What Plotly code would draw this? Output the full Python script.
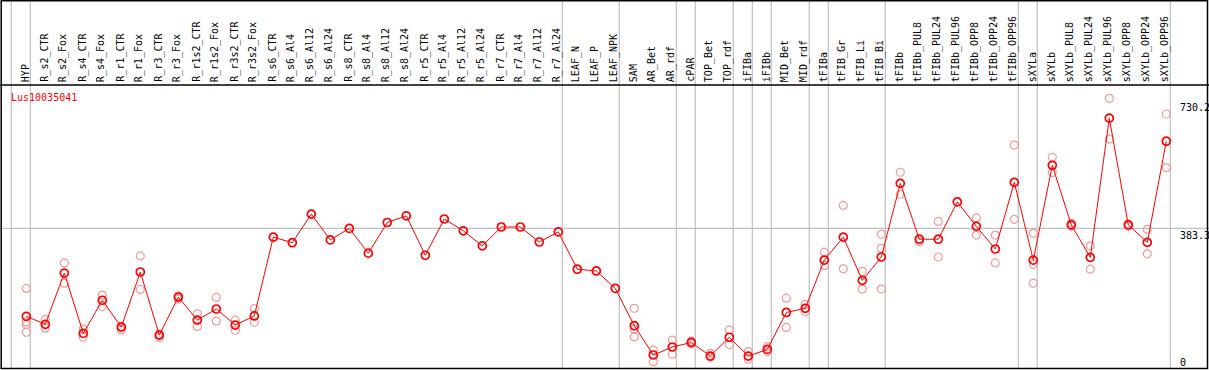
import plotly.graph_objects as go

title = "Lus10035041"
categories = [
    "HYP", "R_s2_CTR", "R_s2_Fox", "R_s4_CTR", "R_s4_Fox", "R_r1_CTR", "R_r1_Fox",
    "R_r3_CTR", "R_r3_Fox", "R_r1s2_CTR", "R_r1s2_Fox", "R_r3s2_CTR", "R_r3s2_Fox",
    "R_s6_CTR", "R_s6_Al4", "R_s6_Al12", "R_s6_Al24", "R_s8_CTR", "R_s8_Al4",
    "R_s8_Al12", "R_s8_Al24", "R_r5_CTR", "R_r5_Al4", "R_r5_Al12", "R_r5_Al24",
    "R_r7_CTR", "R_r7_Al4", "R_r7_Al12", "R_r7_Al24", "LEAF_N", "LEAF_P", "LEAF_NPK",
    "SAM", "AR_Bet", "AR_rdf", "cPAR", "TOP_Bet", "TOP_rdf", "iFIBa", "iFIBb",
    "MID_Bet", "MID_rdf", "tFIBa", "tFIB_Gr", "tFIB_Li", "tFIB_Bi", "tFIBb",
    "tFIBb_PUL8", "tFIBb_PUL24", "tFIBb_PUL96", "tFIBb_OPP8", "tFIBb_OPP24", "tFIBb_OPP96",
    "sXYLa", "sXYLb", "sXYLb_PUL8", "sXYLb_PUL24", "sXYLb_PUL96", "sXYLb_OPP8",
    "sXYLb_OPP24", "sXYLb_OPP96",
]
means = [
    131, 108, 255, 82, 177, 100, 258, 77, 186, 120, 152, 106, 132,
    358, 342, 424, 350, 383, 312, 400, 419, 306, 410, 376, 333,
    387, 387, 344, 373, 266, 261, 211,
    104, 20, 43, 56, 17, 71, 17, 36, 142, 154, 292, 358, 234, 301, 512,
    352, 352, 459, 389, 324, 515,
    292, 564, 393, 300, 699, 393, 343, 633,
]
replicates = [
    [211, 115, 108, 85], [122, 97], [284, 226], [94, 71], [192, 159], [103, 92],
    [304, 208], [70, 80], [180, 190], [138, 102], [185, 117], [120, 91], [153, 114],
    [], [], [], [], [], [], [], [], [], [], [], [],
    [], [], [], [], [], [], [],
    [154, 94, 72], [34, 1], [63, 22], [52, 60], [25, 14], [92, 50], [30, 8], [44, 30],
    [183, 99], [165, 144], [315, 277], [449, 267], [260, 209], [366, 326, 209], [544, 481],
    [345], [403, 301], [], [413, 364], [364, 284], [622, 409],
    [369, 280, 226], [587, 543], [398, 390], [333, 266], [756, 639], [396, 389],
    [380, 310], [711, 557],
]
# group separators (after these category indexes)
separators_after = [-1, 0, 28, 31, 34, 35, 37, 38, 39, 41, 42, 45, 52, 53, 60]
ytick_vals = [730.2, 383.3, 0]
ytick_text = ["730.2", "383.3", "0"]
ref_line = 383.3

W, H = 1209, 370
FONT = "DejaVu Sans Mono"

# pixel <-> data helpers for layout (axis ranges only)
x0_px, dx_px = 26.3, 19.0
y0_px, dy_px = 362.0, 0.3488
xr = [(0 - x0_px) / dx_px, (W - x0_px) / dx_px]
yr = [(y0_px - H) / dy_px, y0_px / dy_px]


def py(p):
    return 1 - p / H


rx, ry = [], []
for i, reps in enumerate(replicates):
    for v in reps:
        rx.append(i)
        ry.append(v)

idx = list(range(len(categories)))

fig = go.Figure()
fig.add_trace(go.Scatter(
    x=rx, y=ry, mode="markers",
    marker=dict(symbol="circle-open", size=8, color="#ef9c9c", line=dict(width=1.2, color="#ef9c9c")),
    hoverinfo="skip", showlegend=False,
))
fig.add_trace(go.Scatter(
    x=idx, y=means, mode="lines+markers",
    line=dict(color="#ff0000", width=1),
    marker=dict(symbol="circle-open", size=8, color="#ff0000", line=dict(width=1.7, color="#ff0000")),
    showlegend=False,
))

shapes = []
for s in separators_after:
    xv = s + 4.0 / dx_px
    shapes.append(dict(type="line", xref="x", yref="paper", x0=xv, x1=xv, y0=py(368), y1=py(0),
                       line=dict(color="#c0c0c0", width=1.2), layer="below"))
shapes.append(dict(type="line", xref="paper", yref="y", x0=0, x1=1, y0=ref_line, y1=ref_line,
                   line=dict(color="#c0c0c0", width=1.2), layer="below"))
shapes.append(dict(type="line", xref="paper", yref="paper", x0=0, x1=1, y0=py(85), y1=py(85),
                   line=dict(color="#000000", width=1.5)))
shapes.append(dict(type="rect", xref="paper", yref="paper", x0=1.2 / W, x1=1 - 1.5 / W,
                   y0=py(368.5), y1=py(0.8), line=dict(color="#000000", width=1.5)))

annotations = []
for i, c in enumerate(categories):
    annotations.append(dict(x=i - 0.06, y=py(84), xref="x", yref="paper", text=c, textangle=-90,
                            showarrow=False, xanchor="center", yanchor="bottom",
                            font=dict(family=FONT, size=10, color="#000000")))
annotations.append(dict(x=8.5 / W, y=py(97.5), xref="paper", yref="paper", text=title, showarrow=False,
                        xanchor="left", yanchor="middle", font=dict(family=FONT, size=10, color="#ff0000")))
for v, t in zip(ytick_vals, ytick_text):
    annotations.append(dict(x=1178 / W, y=v, xref="paper", yref="y", text=t, showarrow=False,
                            xanchor="left", yanchor="top" if v == ref_line else "middle",
                            font=dict(family=FONT, size=10, color="#000000")))

fig.update_layout(
    width=W, height=H, margin=dict(l=0, r=0, t=0, b=0),
    paper_bgcolor="white", plot_bgcolor="white",
    xaxis=dict(range=xr, visible=False, fixedrange=True),
    yaxis=dict(range=yr, visible=False, fixedrange=True),
    shapes=shapes, annotations=annotations,
)
fig.write_html(
    "out.html",
    config={"displayModeBar": False},
    post_script="document.body.style.margin='0';document.body.style.overflow='hidden';",
)
